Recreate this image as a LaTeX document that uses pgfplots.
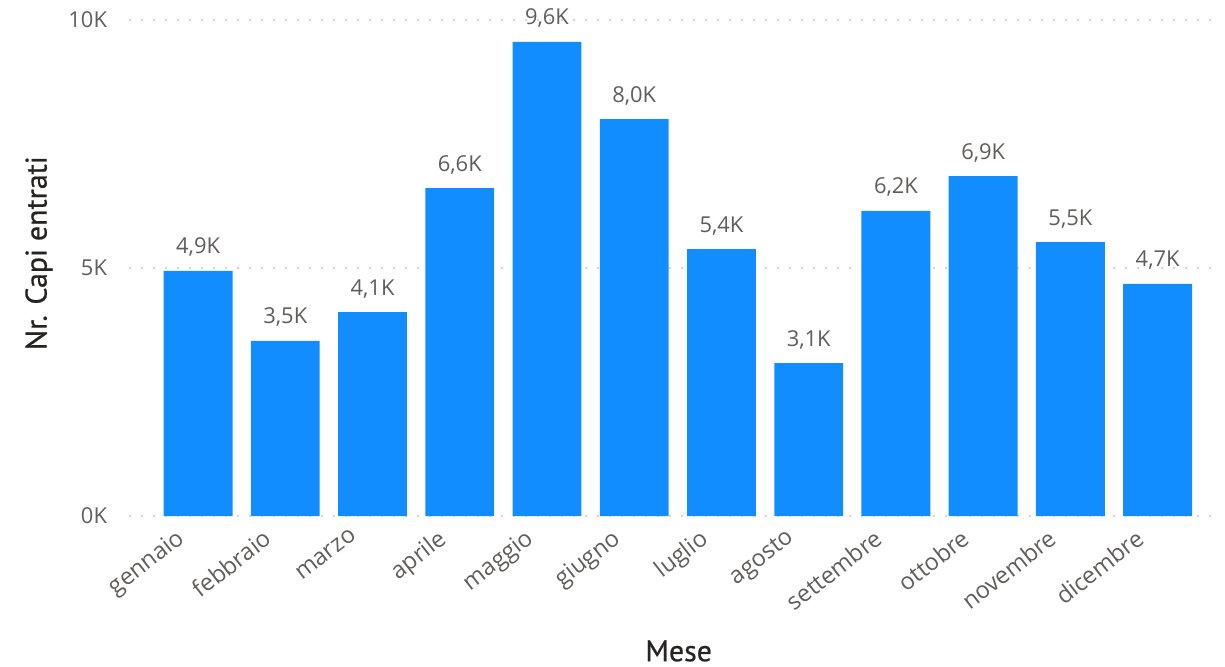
\documentclass[border=0pt]{standalone}
\usepackage{fontspec}
\setmainfont{Open Sans}
\newfontfamily\titlefont[FakeBold=0.6]{PT Sans}
\usepackage{pgfplots}
\pgfplotsset{compat=1.18}
\definecolor{barblue}{HTML}{118DFF}
\definecolor{ticktext}{HTML}{605E5C}
\definecolor{titletext}{HTML}{252423}
\definecolor{gridgray}{HTML}{C8C6C4}
\begin{document}
\begin{tikzpicture}
\useasboundingbox (-65bp,-75.5bp) rectangle (547.5bp,258bp);
\begin{axis}[
  at={(0,0)}, anchor=south west, scale only axis,
  width=540bp, height=248bp,
  xmin=-0.78, xmax=11.6, ymin=0, ymax=10000,
  axis line style={draw=none}, tick style={draw=none},
  ymajorgrids,
  grid style={gridgray, line width=1.1bp, line cap=round, dash pattern=on 0bp off 6bp},
  scaled y ticks=false,
  ytick={0,5000,10000}, yticklabels={0K,5K,10K},
  xtick={0,...,11},
  xticklabels={gennaio,febbraio,marzo,aprile,maggio,giugno,luglio,agosto,settembre,ottobre,novembre,dicembre},
  ticklabel style={font=\fontsize{11}{13}\selectfont, text=ticktext},
  xticklabel style={font=\fontsize{11.8}{13}\selectfont, xshift=-11bp, yshift=-1bp, rotate=38, anchor=north east},
  yticklabel style={xshift=-8bp},
  xlabel={Mese}, ylabel={Nr. Capi entrati},
  label style={font=\titlefont\fontsize{15}{17}\selectfont, text=titletext},
  xlabel style={at={(axis description cs:0.508,-0.272)}, anchor=center},
  ylabel style={at={(axis description cs:-0.0843,0.53)}, anchor=center},
]
\addplot[ybar, bar width=0.79, fill=barblue, draw=none,
  nodes near coords, point meta=explicit symbolic,
  nodes near coords style={font=\fontsize{11}{13}\selectfont, text=ticktext, anchor=base, yshift=8.5bp}]
  coordinates {
  (0,4940) [{4,9K}]
  (1,3530) [{3,5K}]
  (2,4110) [{4,1K}]
  (3,6610) [{6,6K}]
  (4,9560) [{9,6K}]
  (5,8000) [{8,0K}]
  (6,5380) [{5,4K}]
  (7,3080) [{3,1K}]
  (8,6150) [{6,2K}]
  (9,6850) [{6,9K}]
  (10,5520) [{5,5K}]
  (11,4680) [{4,7K}]
  };
\end{axis}
\end{tikzpicture}
\end{document}
